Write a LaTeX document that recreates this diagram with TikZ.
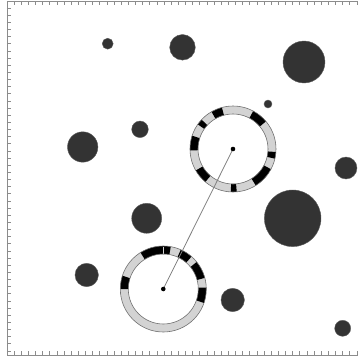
\documentclass[tikz,border=0pt]{standalone}
\definecolor{blobgray}{HTML}{333333}
\definecolor{ringgray}{HTML}{D3D3D3}
\definecolor{edgegray}{HTML}{707070}
\definecolor{framegray}{HTML}{8C8C8C}
\tikzset{
    blob/.style={fill=blobgray, draw=blobgray!80!white, line width=0.4pt},
    ruletick/.style={draw=framegray, line width=0.7pt},
    ringbody/.style={fill=ringgray, even odd rule},
    ringedge/.style={draw=edgegray, line width=0.6pt},
    segblack/.style={fill=black},
    link/.style={draw=gray, line width=0.8pt}
}
\begin{document}
\begin{tikzpicture}[x=1pt,y=1pt]
        \useasboundingbox (0,0) rectangle (358,360);
        % frame with ticks
        \draw[ruletick] (358,359) -- (7,359) -- (7,5) -- (358,5);
        \foreach \k in {1,...,49} {
            \draw[ruletick] (7+7.14*\k,359) -- (7+7.14*\k,355);
            \draw[ruletick] (7+7.14*\k,5) -- (7+7.14*\k,9);
            \draw[ruletick] (7,359-7.14*\k) -- (11,359-7.14*\k);
        }
        % obstacles
        \foreach \x/\y/\r in {107.7/316.3/5.5, 182.5/312.7/12.8, 304/298/21,
                268/256/4, 140/230.7/8.3, 82.7/213/15.2, 346/192/11,
                292.7/141.7/28.3, 146.7/141.7/15, 86.7/85/11.7,
                232.7/60/11.7, 342.7/31.7/8}
            \fill[blob] (\x,\y) circle[radius=\r];
        % the two rings
        \coordinate (up) at (233,211);
        \coordinate (low) at (163.3,71);
        \foreach \c in {up,low} {
            \fill[ringbody] (\c) circle[radius=43] (\c) circle[radius=35];
        }
        \foreach \a/\b in {105/120, 137/145, 162/182, 210/230, 267/275,
                302/332, 347/356, 40/62}
            \fill[segblack] ([shift={(\a:35)}]up) arc[start angle=\a, end angle=\b, radius=35]
                -- ([shift={(\b:43)}]up) arc[start angle=\b, end angle=\a, radius=43] -- cycle;
        \foreach \a/\b in {80/122, 49/66, 15/39, -19/2, 162/180}
            \fill[segblack] ([shift={(\a:35)}]low) arc[start angle=\a, end angle=\b, radius=35]
                -- ([shift={(\b:43)}]low) arc[start angle=\b, end angle=\a, radius=43] -- cycle;
        \draw[ringgray, line width=0.9pt] ([shift={(90:35)}]low) -- ([shift={(90:42)}]low);
        \foreach \c in {up,low} {
            \draw[ringedge] (\c) circle[radius=43];
            \draw[ringedge] (\c) circle[radius=35];
        }
        \draw[link] (low) -- (up);
        \fill (up) circle[radius=2.3];
        \fill (low) circle[radius=2.3];
    \end{tikzpicture}
\end{document}
